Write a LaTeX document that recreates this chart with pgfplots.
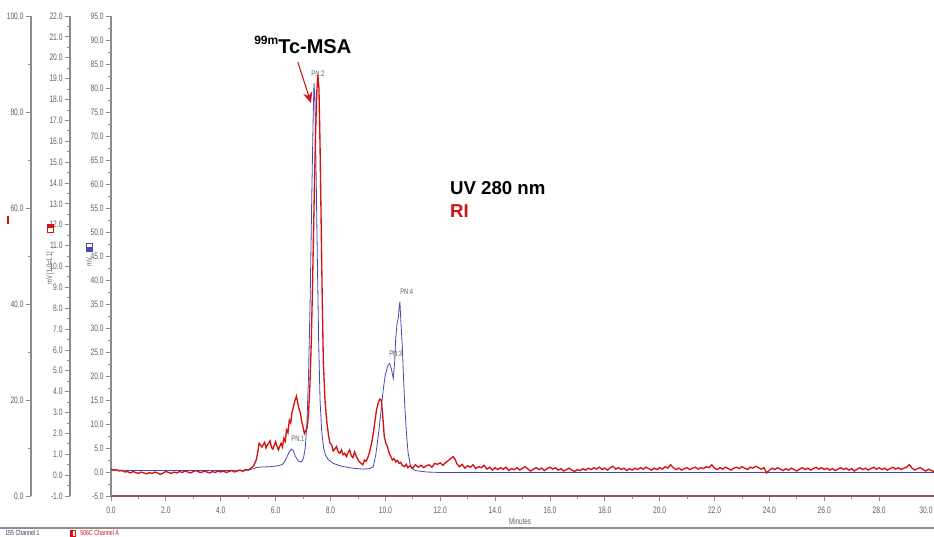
\documentclass[border=0pt]{standalone}
\usepackage{fontspec}
\setmainfont{Liberation Sans}
\newfontfamily\ticksfont{Liberation Sans}[FakeStretch=0.72]
\usepackage{pgfplots}
\pgfplotsset{compat=1.18}
\usetikzlibrary{arrows.meta}

\definecolor{uvblue}{RGB}{72,72,178}
\definecolor{rired}{RGB}{212,18,18}
\definecolor{axgray}{RGB}{140,140,140}
\definecolor{lblgray}{RGB}{95,95,95}
\definecolor{xaxred}{RGB}{150,85,85}

\pgfplotsset{
  chromaxis/.style={
    scale only axis, height=360pt,
    tick align=outside,
    axis line style={axgray, line width=0.8pt},
    tick style={axgray, line width=0.6pt},
    major tick length=3.5pt, minor tick length=2pt,
    ticklabel style={font=\ticksfont\fontsize{7}{7.5}\selectfont, text=lblgray},
    yticklabel style={xshift=1.5pt},
    xticklabel style={yshift=-1pt},
    /pgf/number format/assume math mode=true,
    /pgf/number format/fixed,
    /pgf/number format/fixed zerofill,
    /pgf/number format/precision=1,
  },
  sideaxis/.style={
    chromaxis, width=0.1pt, xmin=0, xmax=1,
    hide x axis, axis y line*=left,
  },
}

\begin{document}
\begin{tikzpicture}
\path[use as bounding box] (0,0) rectangle (700.5pt,402pt);

% outer scale 0-100
\begin{axis}[sideaxis, at={(23.25pt,30pt)}, anchor=south west,
  ymin=0, ymax=100, ytick={0,20,...,100}, minor y tick num=1]
\end{axis}

% middle scale -1 to 22 (RI detector)
\begin{axis}[sideaxis, at={(52.5pt,30pt)}, anchor=south west,
  ymin=-1, ymax=22, ytick={-1,0,...,22}, minor y tick num=1]
\end{axis}

% main chromatogram
\begin{axis}[chromaxis, at={(83.25pt,30pt)}, anchor=south west,
  width=617.25pt,
  xmin=0, xmax=30, ymin=-5, ymax=95,
  axis lines*=left,
  x axis line style={xaxred},
  xtick={0,2,...,28}, extra x ticks={30},
  extra x tick style={xticklabel style={xshift=-6pt}},
  minor x tick num=1,
  ytick={-5,0,...,95}, minor y tick num=1,
  clip=false]

% UV 280 nm trace
\addplot[uvblue, line width=0.6pt] coordinates {
(0,0.4) (1,0.3) (2,0.3) (3,0.3) (4,0.3) (5.0,0.4) (5.2,0.7) (5.35,1.0)
(5.8,1.1) (6.1,1.3) (6.25,1.6) (6.35,2.4) (6.45,3.6) (6.52,4.4) (6.58,4.8)
(6.64,4.5) (6.72,3.3) (6.8,2.5) (6.88,2.1) (6.96,2.2) (7.02,3.0) (7.08,5)
(7.14,10) (7.2,20) (7.26,36) (7.32,58) (7.37,74) (7.40,81) (7.43,78)
(7.47,65) (7.52,45) (7.57,27) (7.62,15) (7.68,8.5) (7.75,5) (7.82,3.5)
(7.92,2.6) (8.1,1.8) (8.4,1.2) (8.8,0.8) (9.2,0.6) (9.4,0.7) (9.5,0.9)
(9.56,1.1) (9.65,3.5) (9.74,7.4) (9.83,12) (9.92,17) (10.0,20.3) (10.1,22.3)
(10.16,22.6) (10.22,21.5) (10.29,19.5) (10.34,23) (10.38,28) (10.43,31)
(10.47,32) (10.5,34) (10.53,35.5) (10.57,31) (10.62,26) (10.66,20)
(10.71,13.6) (10.77,8) (10.83,4) (10.9,1.8) (10.95,0.8) (11.1,0.3)
(11.5,0.0) (12,-0.1) (30,-0.1)
};

% RI trace
\addplot[rired, line width=1pt] coordinates {
(0.0,0.6) (0.1,0.4) (0.2,0.5) (0.3,0.2) (0.4,0.3) (0.5,0.0) (0.6,0.1) (0.7,-0.2)
(0.8,0.1) (0.9,-0.1) (1.0,-0.3) (1.1,0.0) (1.2,-0.2) (1.3,-0.4) (1.4,-0.1)
(1.5,-0.3) (1.6,0.0) (1.7,-0.2) (1.8,-0.5) (1.9,-0.2) (2.0,0.1) (2.1,-0.1)
(2.2,-0.3) (2.3,0.0) (2.4,-0.2) (2.5,0.1) (2.6,-0.1) (2.7,0.2) (2.8,0.0)
(2.9,-0.2) (3.0,0.1) (3.1,0.3) (3.2,0.0) (3.3,-0.1) (3.4,0.2) (3.5,0.0)
(3.6,-0.2) (3.7,0.1) (3.8,-0.1) (3.9,0.2) (4.0,0.0) (4.1,0.2) (4.2,-0.1)
(4.3,0.1) (4.4,0.3) (4.5,0.0) (4.6,0.2) (4.7,0.4) (4.8,0.1) (4.9,0.5)
(5.0,0.4) (5.1,0.8) (5.2,1.3) (5.3,2.6) (5.35,4.2) (5.4,6.0) (5.5,5.2)
(5.6,6.2) (5.65,5.0) (5.7,5.6) (5.8,6.5) (5.85,5.1) (5.9,4.8) (6.0,6.3)
(6.05,5.4) (6.1,4.6) (6.2,6.0) (6.25,5.2) (6.3,7.0) (6.35,6.4) (6.4,8.8)
(6.45,8.2) (6.5,10.8) (6.55,10.2) (6.6,12.5) (6.65,13.6) (6.7,14.8)
(6.76,15.8) (6.8,14.6) (6.85,13.2) (6.9,12.4) (6.95,10.6) (7.0,9.4)
(7.05,8.0) (7.1,8.6) (7.15,9.2) (7.2,12) (7.25,18) (7.3,27) (7.35,40)
(7.4,55) (7.45,69) (7.5,79) (7.54,82.7) (7.58,80) (7.62,68) (7.66,52)
(7.70,36) (7.74,23) (7.8,15) (7.86,10.8) (7.92,8) (7.98,6.0) (8.05,5.6)
(8.1,4.4) (8.16,4.8) (8.22,5.3) (8.28,4.2) (8.34,3.9) (8.4,4.6) (8.46,3.6)
(8.52,3.9) (8.58,3.2) (8.64,4.0) (8.7,4.6) (8.76,3.4) (8.82,3.0) (8.88,4.2)
(8.94,3.3) (9.0,2.6) (9.06,2.1) (9.12,1.8) (9.18,1.5) (9.24,2.5) (9.3,2.2)
(9.36,3.0) (9.42,4.0) (9.5,6.0) (9.56,8.0) (9.62,10.5) (9.68,13) (9.75,14.6)
(9.8,15.2) (9.85,15.0) (9.9,12.2) (9.96,7.4) (10.02,6.0) (10.08,5.2)
(10.14,3.9) (10.2,3.2) (10.26,2.5) (10.32,2.8) (10.38,2.1) (10.44,2.4)
(10.5,1.8) (10.56,2.0) (10.62,1.4) (10.7,1.1) (10.76,1.6) (10.82,0.9)
(10.9,1.3) (11.0,0.8) (11.1,1.5) (11.2,1.0) (11.3,1.4) (11.4,0.9) (11.5,1.3)
(11.6,1.5) (11.7,1.0) (11.8,1.8) (11.9,1.6) (12.0,1.9) (12.1,1.4) (12.2,2.0)
(12.3,2.4) (12.4,2.9) (12.47,3.2) (12.55,2.6) (12.6,1.8) (12.7,1.1)
(12.8,1.6) (12.9,0.8) (13.0,1.3) (13.1,1.0) (13.2,1.5) (13.3,0.7) (13.4,1.1)
(13.5,0.9) (13.6,1.4) (13.7,0.6) (13.8,1.0) (13.9,0.4) (14.0,0.9)
(14.1,0.5) (14.2,0.9) (14.3,0.6) (14.4,1.0) (14.5,0.3) (14.6,0.7) (14.7,0.5)
(14.8,0.9) (14.9,0.4) (15.0,0.8) (15.1,1.1) (15.2,0.6) (15.3,0.2) (15.4,0.6)
(15.5,0.9) (15.6,0.5) (15.7,0.8) (15.8,0.3) (15.9,0.7) (16.0,1.0) (16.1,0.6)
(16.2,0.9) (16.3,0.4) (16.4,0.7) (16.5,0.2) (16.6,0.5) (16.7,0.8) (16.8,0.4)
(16.9,0.1) (17.0,0.5) (17.1,0.3) (17.2,0.7) (17.3,0.4) (17.4,0.8) (17.5,0.5)
(17.6,0.9) (17.7,0.6) (17.8,1.0) (17.9,0.5) (18.0,0.8) (18.1,0.4) (18.2,0.9)
(18.3,1.2) (18.4,0.6) (18.5,0.9) (18.6,0.5) (18.7,0.8) (18.8,0.3) (18.9,0.7)
(19.0,0.4) (19.1,0.8) (19.2,0.5) (19.3,0.9) (19.4,0.6) (19.5,1.0) (19.6,0.7)
(19.7,0.4) (19.8,0.8) (19.9,0.5) (20.0,0.9) (20.1,0.6) (20.2,1.1) (20.3,0.8)
(20.4,1.5) (20.5,0.9) (20.6,0.5) (20.7,0.8) (20.8,0.4) (20.9,0.7) (21.0,0.9)
(21.1,0.5) (21.2,0.8) (21.3,1.0) (21.4,0.6) (21.5,0.9) (21.6,0.7) (21.7,1.1)
(21.8,0.9) (21.9,1.5) (22.0,0.8) (22.1,0.5) (22.2,0.9) (22.3,0.6) (22.4,1.0)
(22.5,0.7) (22.6,0.4) (22.7,0.8) (22.8,1.0) (22.9,0.7) (23.0,1.1) (23.1,0.8)
(23.2,0.5) (23.3,1.0) (23.4,0.8) (23.5,1.2) (23.6,0.9) (23.7,0.6) (23.8,0.9)
(23.9,-0.2) (24.0,0.4) (24.1,0.8) (24.2,0.5) (24.3,0.9) (24.4,0.6) (24.5,0.3)
(24.6,0.7) (24.7,0.4) (24.8,0.8) (24.9,0.5) (25.0,0.2) (25.1,0.6) (25.2,0.9)
(25.3,0.5) (25.4,0.8) (25.5,0.4) (25.6,0.7) (25.7,1.0) (25.8,0.6) (25.9,0.9)
(26.0,0.5) (26.1,0.8) (26.2,0.4) (26.3,0.7) (26.4,0.3) (26.5,0.6) (26.6,0.9)
(26.7,0.5) (26.8,0.8) (26.9,0.4) (27.0,0.7) (27.1,0.2) (27.2,0.6) (27.3,0.9)
(27.4,0.5) (27.5,0.8) (27.6,0.4) (27.7,0.7) (27.8,1.0) (27.9,0.6) (28.0,0.9)
(28.1,0.5) (28.2,0.8) (28.3,0.4) (28.4,0.7) (28.5,1.0) (28.6,0.6) (28.7,0.9)
(28.8,0.5) (28.9,0.8) (29.0,1.0) (29.1,1.5) (29.2,0.8) (29.3,0.4) (29.4,0.7)
(29.5,0.9) (29.6,0.5) (29.7,0.2) (29.8,0.6) (29.9,0.3) (30.0,0.1)
};

% peak labels
\begin{scope}[every node/.style={font=\ticksfont\fontsize{6}{6}\selectfont, text=lblgray, inner sep=0pt}]
\node at (axis cs:7.54,82.9) {PN:2};
\node at (axis cs:6.81,6.9) {PN:1};
\node at (axis cs:10.38,24.6) {PN:3};
\node at (axis cs:10.78,37.5) {PN:4};
\end{scope}

% annotations
\node[font=\bfseries\fontsize{15}{15}\selectfont, inner sep=0pt]
  at (axis cs:6.99,89) {\raisebox{0.45em}{\fontsize{9}{9}\selectfont 99m}Tc-MSA};
\draw[rired, line width=0.8pt, -{Stealth[length=8pt,width=7pt]}]
  (axis cs:6.81,85.4) -- (axis cs:7.29,76.9);
\node[anchor=west, font=\bfseries\fontsize{14}{14}\selectfont, inner sep=0pt]
  at (axis cs:12.35,59.2) {UV 280 nm};
\node[anchor=west, font=\bfseries\fontsize{14}{14}\selectfont, text=rired, inner sep=0pt]
  at (axis cs:12.35,54.4) {RI};
\end{axis}

% axis captions, detector markers and channel strip
\begin{scope}[x=0.75pt, y=0.75pt]
\node[font=\ticksfont\fontsize{6.5}{7}\selectfont, text=lblgray] at (520,15) {Minutes};
\node[rotate=90, font=\ticksfont\fontsize{6}{6}\selectfont, text=lblgray] at (50,268) {mV [1.0=1.1]};
\node[rotate=90, font=\ticksfont\fontsize{6}{6}\selectfont, text=lblgray] at (89,274) {mV};
% RI marker
\fill[white] (47,304) rectangle (53,312);
\fill[rired] (47,308) rectangle (53,312);
\draw[rired, line width=0.6pt] (47,304) rectangle (53,312);
% UV marker
\fill[white] (86,285) rectangle (92,293);
\fill[uvblue] (86,285) rectangle (92,289);
\draw[uvblue, line width=0.6pt] (86,285) rectangle (92,293);
\draw[rired, line width=1.2pt] (8,312) -- (8,320);
% channel strip
\draw[axgray, line width=0.8pt] (0,8) -- (934,8);
\node[anchor=north west, inner sep=0pt, font=\ticksfont\fontsize{5.5}{6}\selectfont, text={rgb,255:red,50;green,50;blue,110}] at (5,6) {155 Channel 1};
\fill[white] (70,0) rectangle (75,6);
\fill[rired] (70,0) rectangle (72.5,6);
\draw[rired, line width=0.5pt] (70,0) rectangle (75,6);
\node[anchor=north west, inner sep=0pt, font=\ticksfont\fontsize{5.5}{6}\selectfont, text=rired] at (80,6) {506C Channel A};
\end{scope}
\end{tikzpicture}
\end{document}
